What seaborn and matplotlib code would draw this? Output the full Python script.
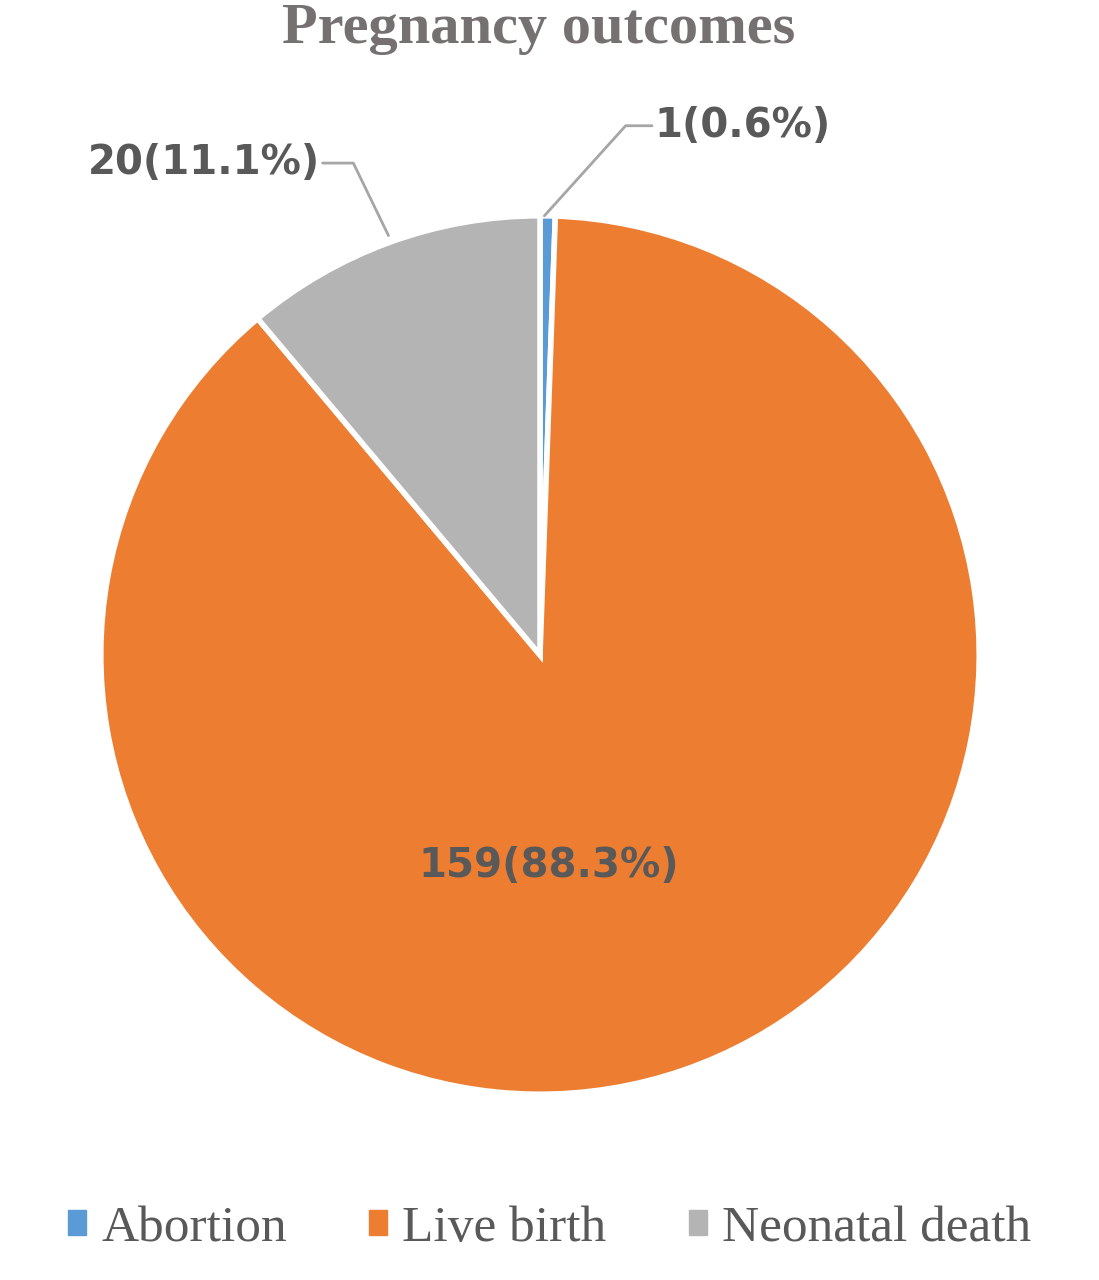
import matplotlib.pyplot as plt
import seaborn as sns

categories = ['Abortion', 'Live birth', 'Neonatal death']
counts = [1, 159, 20]
percents = ['0.6%', '88.3%', '11.1%']
colors = ['#5B9BD5', '#ED7D31', '#B4B4B4']

sns.set_style('white')

fig = plt.figure(figsize=(10.99, 12.8), dpi=100)
ax = fig.add_axes([(540 - 448) / 1099, (1280 - 655 - 448) / 1280, 896 / 1099, 896 / 1280])

wedges, _ = ax.pie(counts, colors=colors, startangle=90, counterclock=False,
                   wedgeprops=dict(edgecolor='white', linewidth=4))
ax.set_xlim(-1.02, 1.02)
ax.set_ylim(-1.02, 1.02)
ax.set_aspect('equal')

labels = [f'{c}({p})' for c, p in zip(counts, percents)]
lab_kw = dict(fontsize=29, fontweight='bold', color='#595959', family='DejaVu Sans')

# Live birth label inside
ax.text(0.02, -0.48, labels[1], ha='center', va='center', **lab_kw)

# Neonatal death label with leader line
ax.plot([-0.345, -0.425, -0.495], [0.955, 1.12, 1.12], color='#A6A6A6', lw=2, clip_on=False)
ax.text(-0.50, 1.12, labels[2], ha='right', va='center', **lab_kw)

# Abortion label with leader line
ax.plot([0.01, 0.195, 0.255], [1.0, 1.205, 1.205], color='#A6A6A6', lw=2, clip_on=False)
ax.text(0.26, 1.205, labels[0], ha='left', va='center', **lab_kw)

fig.text(0.49, 0.977, 'Pregnancy outcomes', ha='center', va='center',
         fontsize=42, fontweight='bold', color='#757171', family='Liberation Serif')

handles = [plt.Rectangle((0, 0), 1, 1, color=c) for c in colors]
fig.legend(handles, categories, loc='center', bbox_to_anchor=(0.5, 0.04), ncol=3,
           frameon=False, handlelength=0.35, handleheight=0.35, handletextpad=0.3,
           columnspacing=1.6, prop=dict(family='Liberation Serif', size=37),
           labelcolor='#595959')

fig.savefig('out.png', dpi=100)
